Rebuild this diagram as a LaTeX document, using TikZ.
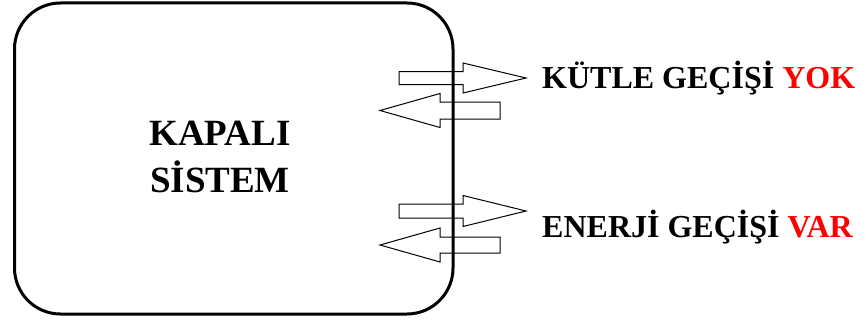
\documentclass[tikz,border=0pt]{standalone}
\usepackage{fontspec}
\setmainfont{Liberation Serif}
\usepackage{xcolor}
\definecolor{kred}{RGB}{255,0,0}
\newcommand{\blockarrow}[6]{% tail x, neck x, tip x, y, shaft half, head half
  \draw[arrowline] (#1,#4-#5) -- (#2,#4-#5) -- (#2,#4-#6) -- (#3,#4) -- (#2,#4+#6) -- (#2,#4+#5) -- (#1,#4+#5) -- cycle;}
\begin{document}
\begin{tikzpicture}[x=1pt,y=-1pt,
  arrowline/.style={draw=black,line width=1pt,line join=miter},
  sysbox/.style={draw=black,line width=3pt,rounded corners=46pt},
  label/.style={font=\bfseries\fontsize{32}{38}\selectfont,anchor=base west,inner sep=0pt},
  title/.style={font=\bfseries\fontsize{37}{47}\selectfont,align=center,inner sep=0pt}]
\useasboundingbox (0,0) rectangle (866,321);
% arrows
\blockarrow{399}{463}{526}{78}{6.5}{15}
\blockarrow{500}{440}{380}{110.5}{8.5}{17}
\blockarrow{399}{463}{526}{211}{7}{15.5}
\blockarrow{500}{440}{380}{245}{8}{17}
% system box
\draw[sysbox] (14.5,3) rectangle (453,314);
\node[title] (sys) at (220,157) {KAPALI\\SİSTEM};
\node[label] (mass) at (542,88) {KÜTLE GEÇİŞİ \textcolor{kred}{YOK}};
\node[label] (energy) at (542,237) {ENERJİ GEÇİŞİ \textcolor{kred}{VAR}};
\end{tikzpicture}
\end{document}
